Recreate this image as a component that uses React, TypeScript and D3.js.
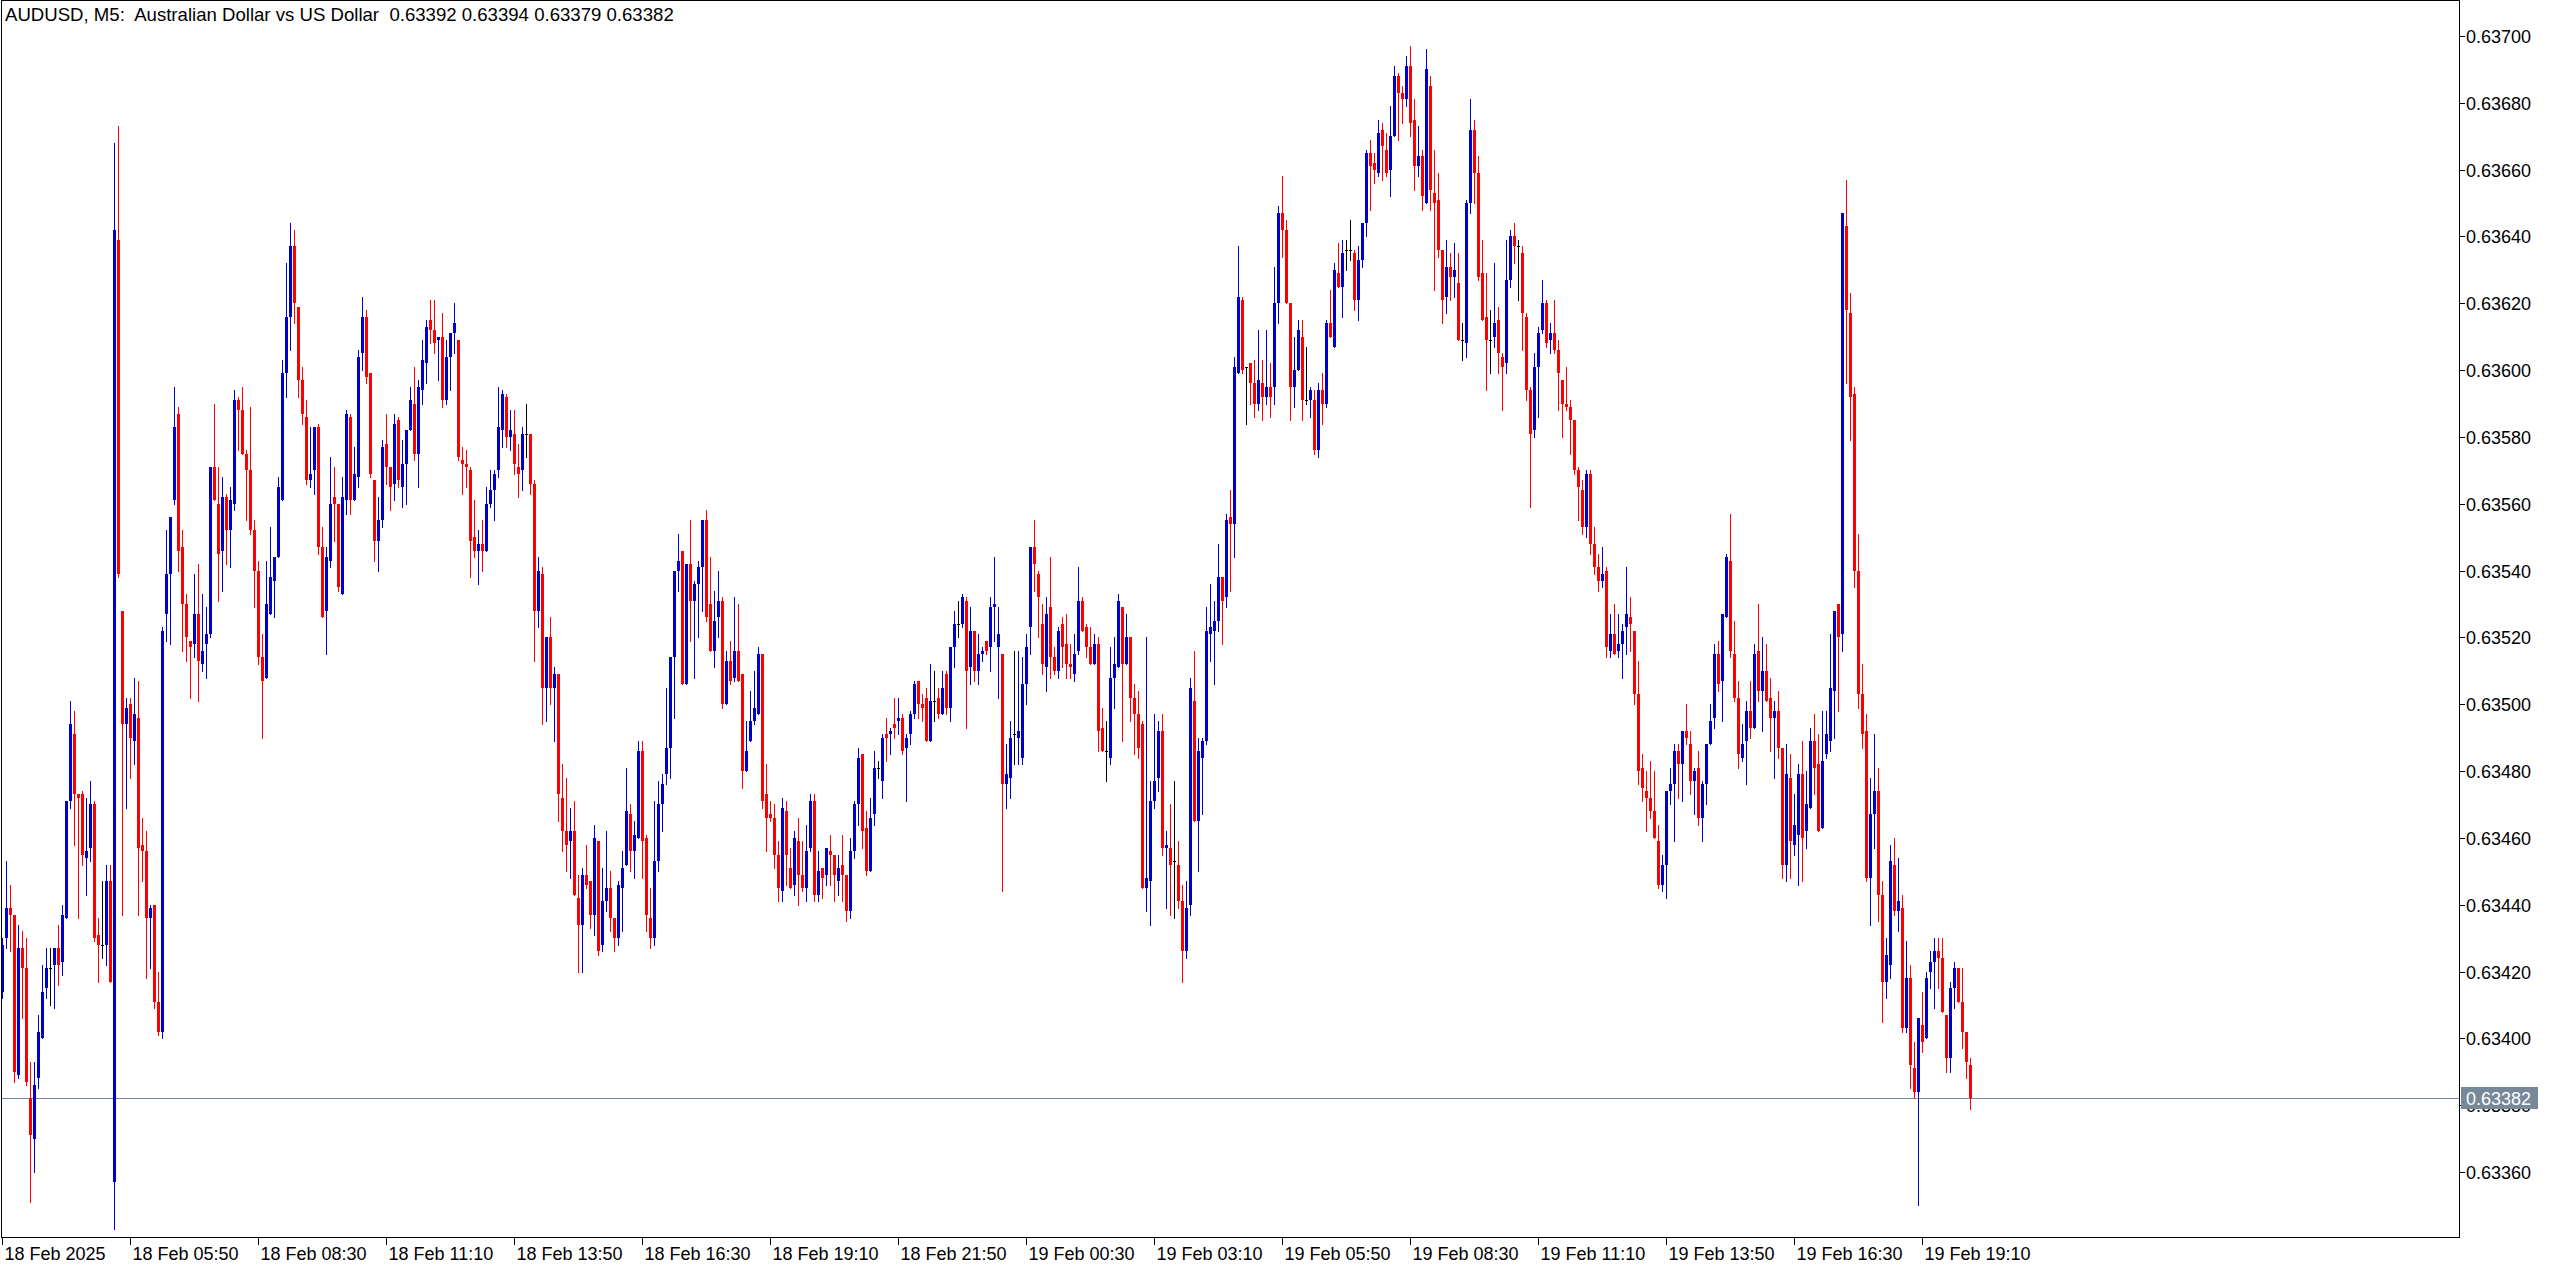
import React, { useEffect, useRef } from 'react';
import * as d3 from 'd3';

// AUDUSD M5 candles, 18 Feb 2025 03:10 .. 19 Feb 2025 20:10 (one bar every 5 minutes)
// prices are kept as points above 0.63000, e.g. 414 -> 0.63414
const opens = [
  414, 430, 439, 437, 389, 427, 421, 382, 370, 388,
  400, 415, 421, 422, 427, 423, 436, 471, 491, 473,
  473, 454, 457, 470, 431, 428, 428, 447, 357, 639,
  528, 494, 500, 489, 496, 458, 456, 436, 440, 411,
  402, 527, 539, 561, 587, 547, 530, 519, 518, 527,
  512, 518, 521, 571, 560, 546, 562, 552, 560, 591,
  588, 575, 570, 552, 540, 514, 508, 527, 537, 544,
  561, 599, 616, 637, 619, 597, 586, 567, 570, 583,
  547, 528, 543, 562, 560, 533, 561, 586, 561, 568,
  605, 616, 599, 567, 549, 555, 578, 571, 566, 585,
  565, 572, 582, 590, 575, 594, 602, 615, 612, 609,
  610, 591, 604, 611, 609, 573, 572, 570, 550, 546,
  548, 546, 560, 564, 570, 582, 592, 580, 581, 571,
  570, 581, 581, 566, 528, 539, 505, 520, 505, 509,
  472, 462, 459, 462, 442, 434, 449, 447, 437, 459,
  428, 441, 445, 436, 430, 445, 452, 467, 456, 460,
  486, 460, 436, 430, 453, 470, 479, 487, 514, 540,
  546, 506, 542, 531, 536, 541, 555, 530, 516, 526,
  531, 500, 513, 508, 516, 509, 480, 489, 495, 497,
  515, 473, 467, 466, 455, 444, 468, 451, 446, 459,
  449, 445, 457, 471, 443, 451, 449, 456, 455, 447,
  452, 449, 438, 456, 470, 485, 463, 450, 467, 481,
  477, 491, 491, 494, 495, 496, 487, 491, 497, 507,
  500, 502, 489, 501, 502, 497, 509, 499, 517, 524,
  524, 531, 511, 522, 510, 515, 519, 517, 529, 517,
  515, 476, 478, 491, 490, 484, 506, 523, 547, 539,
  524, 511, 529, 514, 510, 524, 518, 512, 509, 516,
  531, 523, 517, 512, 518, 493, 486, 484, 508, 511,
  529, 512, 520, 502, 497, 494, 445, 447, 471, 478,
  492, 457, 457, 453, 452, 441, 426, 440, 501, 465,
  484, 489, 521, 522, 525, 538, 532, 556, 554, 599,
  621, 601, 602, 596, 590, 596, 592, 595, 595, 620,
  647, 642, 620, 595, 600, 610, 591, 591, 591, 576,
  594, 590, 614, 607, 629, 625, 636, 636, 635, 621,
  633, 644, 665, 662, 659, 672, 666, 660, 670, 688,
  683, 681, 691, 675, 661, 664, 650, 685, 653, 651,
  636, 622, 631, 628, 626, 609, 608, 650, 672, 659,
  629, 616, 609, 610, 615, 604, 602, 627, 640, 637,
  635, 616, 594, 582, 601, 612, 620, 609, 611, 606,
  597, 590, 589, 585, 570, 564, 553, 569, 548, 541,
  537, 540, 516, 521, 516, 518, 523, 526, 522, 503,
  481, 474, 472, 468, 459, 446, 452, 474, 476, 486,
  482, 492, 488, 477, 481, 466, 476, 488, 496, 515,
  507, 526, 543, 515, 502, 484, 489, 498, 493, 516,
  504, 510, 502, 496, 498, 487, 452, 478, 458, 461,
  479, 462, 469, 489, 482, 463, 485, 489, 504, 530,
  521, 643, 617, 593, 540, 503, 492, 448, 467, 474,
  443, 417, 422, 452, 438, 439, 403, 418, 391, 384,
  404, 400, 420, 423, 426, 424, 407, 394, 415, 421,
  411, 402, 392,
];

const highs = [
  430, 453, 446, 437, 434, 432, 430, 393, 393, 407,
  422, 427, 427, 427, 434, 440, 471, 501, 498, 473,
  474, 472, 477, 471, 436, 447, 452, 452, 668, 673,
  528, 502, 502, 508, 507, 466, 462, 440, 440, 420,
  523, 552, 556, 595, 589, 552, 533, 519, 539, 542,
  533, 529, 571, 590, 571, 568, 563, 565, 594, 592,
  595, 576, 589, 555, 543, 521, 543, 553, 544, 568,
  603, 632, 644, 642, 619, 601, 591, 583, 583, 584,
  553, 547, 574, 571, 560, 568, 588, 587, 577, 606,
  622, 618, 599, 567, 562, 579, 587, 571, 587, 586,
  579, 582, 595, 601, 597, 609, 615, 621, 621, 610,
  617, 609, 611, 620, 609, 577, 576, 571, 561, 552,
  555, 565, 570, 570, 595, 594, 593, 588, 588, 578,
  583, 590, 581, 567, 544, 541, 520, 526, 511, 509,
  482, 478, 469, 471, 449, 451, 458, 447, 464, 459,
  451, 462, 450, 436, 447, 456, 481, 470, 465, 489,
  489, 461, 445, 471, 477, 479, 505, 514, 540, 551,
  546, 542, 555, 537, 543, 555, 558, 544, 534, 540,
  532, 516, 519, 532, 530, 509, 495, 504, 510, 517,
  515, 482, 471, 470, 459, 472, 471, 457, 462, 466,
  459, 464, 473, 473, 456, 451, 457, 461, 455, 455,
  461, 449, 460, 471, 487, 485, 468, 472, 486, 483,
  491, 496, 493, 502, 502, 497, 491, 498, 507, 507,
  503, 505, 512, 510, 505, 510, 510, 517, 528, 531,
  533, 532, 529, 522, 521, 517, 519, 532, 544, 529,
  515, 488, 495, 516, 516, 514, 521, 547, 555, 540,
  530, 532, 544, 517, 523, 526, 527, 518, 521, 541,
  532, 524, 523, 521, 520, 499, 495, 517, 520, 533,
  529, 527, 520, 506, 504, 495, 520, 477, 497, 495,
  497, 462, 470, 477, 459, 446, 447, 508, 516, 490,
  490, 529, 536, 531, 548, 538, 557, 564, 604, 637,
  622, 601, 602, 603, 612, 603, 612, 602, 631, 649,
  658, 645, 620, 610, 615, 615, 607, 595, 594, 596,
  599, 615, 624, 632, 638, 639, 639, 645, 636, 637,
  644, 666, 669, 665, 675, 674, 671, 679, 691, 689,
  685, 694, 697, 681, 673, 666, 696, 688, 666, 659,
  636, 639, 635, 638, 635, 614, 651, 681, 675, 664,
  639, 629, 618, 632, 619, 605, 639, 642, 644, 639,
  637, 617, 595, 605, 613, 627, 621, 614, 621, 609,
  597, 601, 591, 585, 571, 567, 570, 570, 553, 545,
  547, 541, 527, 530, 527, 524, 541, 532, 522, 513,
  485, 480, 483, 480, 464, 455, 474, 481, 488, 488,
  492, 500, 492, 481, 486, 477, 488, 500, 518, 519,
  527, 545, 557, 525, 507, 494, 501, 507, 518, 530,
  520, 518, 508, 501, 504, 487, 488, 485, 473, 482,
  489, 480, 493, 497, 491, 498, 498, 521, 528, 530,
  647, 657, 623, 595, 551, 512, 497, 478, 491, 481,
  447, 430, 458, 460, 454, 443, 429, 422, 399, 406,
  414, 420, 426, 430, 430, 430, 407, 417, 423, 421,
  421, 402, 394,
];

const lows = [
  412, 427, 426, 387, 388, 406, 386, 351, 360, 385,
  400, 412, 410, 409, 416, 419, 436, 469, 458, 436,
  452, 443, 453, 429, 417, 424, 422, 417, 343, 538,
  437, 469, 478, 482, 437, 447, 418, 421, 409, 401,
  400, 519, 518, 560, 540, 516, 513, 502, 514, 501,
  510, 508, 520, 561, 531, 534, 542, 541, 558, 576,
  575, 555, 551, 529, 512, 490, 508, 527, 526, 544,
  561, 592, 606, 614, 592, 584, 566, 565, 563, 545,
  526, 515, 541, 549, 534, 533, 557, 557, 561, 565,
  600, 596, 568, 543, 540, 553, 566, 558, 561, 565,
  559, 560, 582, 573, 565, 590, 596, 608, 605, 597,
  589, 590, 594, 605, 573, 563, 565, 538, 544, 536,
  540, 546, 559, 555, 568, 577, 577, 576, 569, 562,
  564, 574, 563, 513, 523, 494, 495, 500, 489, 465,
  456, 450, 448, 443, 420, 420, 445, 433, 431, 425,
  426, 438, 432, 426, 428, 432, 452, 450, 448, 460,
  448, 432, 427, 428, 450, 462, 476, 478, 496, 534,
  506, 506, 519, 508, 520, 528, 525, 516, 511, 520,
  499, 500, 506, 507, 507, 475, 480, 489, 494, 497,
  469, 456, 465, 451, 441, 441, 446, 445, 443, 440,
  444, 441, 456, 441, 441, 442, 446, 446, 441, 443,
  441, 435, 436, 454, 464, 457, 449, 450, 464, 478,
  472, 483, 485, 490, 491, 485, 471, 488, 496, 496,
  495, 489, 489, 495, 496, 497, 497, 495, 511, 520,
  523, 493, 506, 507, 506, 513, 515, 510, 519, 502,
  444, 469, 472, 482, 482, 482, 500, 515, 534, 520,
  509, 504, 508, 509, 508, 511, 508, 508, 507, 515,
  522, 514, 512, 512, 486, 486, 477, 482, 499, 511,
  489, 512, 495, 485, 484, 445, 438, 434, 469, 474,
  455, 439, 437, 436, 439, 417, 424, 437, 465, 450,
  467, 488, 513, 506, 522, 518, 529, 534, 544, 599,
  599, 584, 590, 586, 588, 585, 590, 586, 590, 614,
  634, 620, 585, 589, 600, 585, 590, 586, 575, 574,
  584, 589, 610, 607, 625, 616, 630, 633, 618, 615,
  631, 640, 648, 656, 658, 657, 658, 652, 670, 669,
  674, 679, 670, 654, 658, 648, 650, 648, 624, 634,
  614, 617, 621, 622, 609, 603, 604, 647, 650, 627,
  615, 594, 599, 607, 599, 588, 599, 625, 632, 621,
  606, 591, 559, 580, 586, 611, 607, 605, 605, 588,
  580, 588, 575, 569, 555, 551, 550, 545, 539, 534,
  535, 514, 514, 515, 514, 508, 515, 516, 500, 476,
  471, 462, 466, 460, 445, 444, 442, 470, 459, 472,
  471, 488, 473, 467, 464, 459, 470, 488, 493, 504,
  495, 526, 514, 501, 481, 483, 476, 490, 493, 501,
  492, 501, 486, 478, 484, 448, 447, 448, 455, 446,
  447, 457, 469, 473, 462, 463, 484, 486, 490, 498,
  516, 596, 579, 535, 499, 487, 447, 434, 457, 435,
  405, 412, 418, 437, 432, 402, 402, 385, 382, 350,
  396, 400, 415, 409, 415, 408, 390, 390, 409, 411,
  397, 388, 379,
];

const closes = [
  428, 439, 437, 390, 427, 421, 387, 371, 386, 402,
  414, 421, 421, 427, 422, 437, 471, 494, 473, 472,
  455, 456, 470, 430, 428, 428, 447, 417, 642, 539,
  494, 499, 490, 497, 457, 456, 436, 439, 411, 402,
  522, 539, 556, 583, 546, 530, 520, 517, 527, 513,
  516, 521, 571, 561, 545, 562, 552, 561, 591, 588,
  575, 570, 552, 540, 514, 507, 530, 538, 544, 565,
  599, 616, 637, 620, 597, 587, 567, 569, 583, 547,
  526, 544, 560, 560, 535, 562, 587, 561, 569, 604,
  616, 598, 569, 549, 555, 577, 571, 565, 584, 567,
  572, 582, 591, 575, 595, 603, 613, 612, 608, 610,
  591, 604, 611, 614, 574, 572, 571, 549, 546, 548,
  546, 560, 564, 569, 583, 593, 580, 582, 572, 569,
  581, 581, 566, 528, 540, 505, 520, 505, 509, 473,
  462, 458, 462, 443, 434, 449, 446, 437, 460, 426,
  441, 445, 436, 430, 446, 451, 468, 456, 461, 486,
  459, 437, 430, 453, 470, 476, 487, 514, 540, 543,
  506, 542, 531, 536, 541, 555, 526, 516, 525, 531,
  500, 513, 507, 516, 507, 480, 486, 495, 499, 515,
  471, 466, 466, 455, 445, 469, 455, 445, 460, 449,
  445, 456, 471, 443, 450, 448, 457, 455, 449, 451,
  449, 438, 456, 470, 484, 462, 450, 466, 481, 481,
  490, 490, 492, 493, 496, 486, 490, 497, 506, 500,
  499, 489, 501, 501, 497, 505, 499, 517, 524, 524,
  532, 510, 522, 510, 515, 516, 516, 529, 530, 521,
  476, 479, 490, 491, 492, 506, 517, 547, 542, 532,
  512, 527, 514, 510, 522, 517, 512, 511, 515, 531,
  522, 517, 512, 518, 492, 486, 486, 508, 512, 531,
  512, 520, 502, 497, 487, 445, 448, 471, 477, 492,
  457, 458, 452, 453, 441, 426, 439, 505, 465, 486,
  489, 522, 523, 525, 538, 531, 555, 554, 601, 622,
  600, 601, 596, 590, 597, 592, 595, 592, 620, 647,
  642, 620, 595, 600, 612, 591, 591, 594, 576, 594,
  590, 614, 610, 630, 625, 635, 636, 636, 621, 633,
  644, 665, 661, 660, 671, 667, 659, 670, 688, 683,
  681, 691, 674, 661, 664, 652, 690, 654, 650, 636,
  621, 631, 628, 630, 609, 609, 650, 672, 659, 628,
  615, 609, 609, 614, 605, 601, 627, 640, 637, 637,
  617, 594, 581, 601, 611, 620, 608, 611, 606, 599,
  590, 589, 585, 570, 565, 553, 569, 548, 541, 537,
  539, 517, 521, 515, 518, 522, 527, 524, 503, 480,
  475, 472, 468, 460, 446, 452, 474, 476, 486, 482,
  492, 490, 477, 480, 466, 476, 488, 495, 515, 506,
  527, 544, 516, 502, 485, 488, 498, 493, 515, 504,
  510, 501, 496, 498, 487, 452, 479, 459, 464, 479,
  460, 470, 489, 481, 462, 483, 491, 505, 528, 520,
  647, 618, 592, 540, 503, 491, 448, 467, 474, 443,
  417, 425, 453, 438, 441, 403, 418, 392, 384, 406,
  399, 418, 423, 426, 424, 408, 394, 415, 421, 411,
  402, 393, 382,
];

const timeTickLabels = [
  '18 Feb 2025', '18 Feb 05:50', '18 Feb 08:30', '18 Feb 11:10', '18 Feb 13:50',
  '18 Feb 16:30', '18 Feb 19:10', '18 Feb 21:50', '19 Feb 00:30', '19 Feb 03:10',
  '19 Feb 05:50', '19 Feb 08:30', '19 Feb 11:10', '19 Feb 13:50', '19 Feb 16:30',
  '19 Feb 19:10',
];
// bar index of each time label
const timeTickBars = [0, 32, 64, 96, 128, 160, 192, 224, 256, 288, 320, 352, 384, 416, 448, 480];

const priceTicks = [
  0.6336, 0.6338, 0.634, 0.6342, 0.6344, 0.6346, 0.6348, 0.635, 0.6352,
  0.6354, 0.6356, 0.6358, 0.636, 0.6362, 0.6364, 0.6366, 0.6368, 0.637,
];

const lastPrice = 0.63382;
const title = 'AUDUSD, M5:  Australian Dollar vs US Dollar  0.63392 0.63394 0.63379 0.63382';

const WIDTH = 2556;
const HEIGHT = 1270;
const PLOT_RIGHT = 2459.5;
const PLOT_BOTTOM = 1237.5;
const BULL = '#0000CD';
const BEAR = '#FF0000';
const DOJI = '#000000';
const PRICE_LINE = '#778899';
const FONT = '"Liberation Sans", Arial, sans-serif';

export default function App() {
  const svgRef = useRef<SVGSVGElement>(null);

  useEffect(() => {
    if (!svgRef.current) return;
    document.body.style.margin = '0';

    const svg = d3.select(svgRef.current);
    svg.selectAll('*').remove();

    const toPrice = (v: number) => 0.63 + v / 100000;
    const n = Math.min(opens.length, highs.length, lows.length, closes.length);
    const bars = d3.range(n).map(i => ({
      i,
      o: toPrice(opens[i]),
      h: toPrice(highs[i]),
      l: toPrice(lows[i]),
      c: toPrice(closes[i]),
    }));

    // one bar every 4px
    const x = d3.scaleLinear().domain([0, 492]).range([2.5, 2.5 + 4 * 492]);
    const y = d3.scaleLinear().domain([0.6336, 0.637]).range([1172, 36]);

    svg.append('rect')
      .attr('width', WIDTH)
      .attr('height', HEIGHT)
      .attr('fill', '#ffffff');

    // last price line
    const ly = Math.round(y(lastPrice)) + 0.5;
    svg.append('line')
      .attr('x1', 2)
      .attr('x2', PLOT_RIGHT)
      .attr('y1', ly)
      .attr('y2', ly)
      .attr('stroke', PRICE_LINE)
      .attr('stroke-width', 1);

    // candles
    const candles = svg.append('g').attr('shape-rendering', 'crispEdges');
    const colorOf = (d: any) => (d.c > d.o ? BULL : d.c < d.o ? BEAR : DOJI);

    const g = candles.selectAll('g.bar')
      .data(bars)
      .enter()
      .append('g')
      .attr('class', 'bar')
      .attr('fill', colorOf);

    g.append('rect')
      .attr('x', d => x(d.i) - 0.5)
      .attr('width', 1)
      .attr('y', d => Math.round(y(Math.max(d.h, d.o, d.c))))
      .attr('height', d => Math.max(1, Math.round(y(Math.min(d.l, d.o, d.c))) - Math.round(y(Math.max(d.h, d.o, d.c))) + 1));

    g.append('rect')
      .attr('x', d => x(d.i) - 1.5)
      .attr('width', 3)
      .attr('y', d => Math.round(y(Math.max(d.o, d.c))))
      .attr('height', d => Math.max(1, Math.round(y(Math.min(d.o, d.c))) - Math.round(y(Math.max(d.o, d.c)))));

    // frame
    svg.append('rect')
      .attr('x', 1.5)
      .attr('y', 0.5)
      .attr('width', PLOT_RIGHT - 1.5)
      .attr('height', PLOT_BOTTOM - 0.5)
      .attr('fill', 'none')
      .attr('stroke', '#000')
      .attr('stroke-width', 1)
      .attr('shape-rendering', 'crispEdges');

    // price axis
    const yAxis = svg.append('g').attr('font-family', FONT).attr('font-size', 18);
    priceTicks.forEach(p => {
      const ty = Math.round(y(p)) + 0.5;
      yAxis.append('line')
        .attr('x1', PLOT_RIGHT)
        .attr('x2', PLOT_RIGHT + 5)
        .attr('y1', ty)
        .attr('y2', ty)
        .attr('stroke', '#000')
        .attr('shape-rendering', 'crispEdges');
      yAxis.append('text')
        .attr('x', 2466)
        .attr('y', ty + 6.5)
        .attr('fill', '#000')
        .text(p.toFixed(5));
    });

    // time axis
    const xAxis = svg.append('g').attr('font-family', FONT).attr('font-size', 18);
    timeTickBars.forEach((b, k) => {
      const tx = Math.floor(x(b)) + 0.5;
      xAxis.append('line')
        .attr('x1', tx)
        .attr('x2', tx)
        .attr('y1', PLOT_BOTTOM)
        .attr('y2', PLOT_BOTTOM + 7)
        .attr('stroke', '#000')
        .attr('shape-rendering', 'crispEdges');
      xAxis.append('text')
        .attr('x', tx + 2)
        .attr('y', 1260)
        .attr('fill', '#000')
        .text(timeTickLabels[k]);
    });

    // last price label (drawn over the 0.63380 grid label, as in the terminal)
    svg.append('rect')
      .attr('x', 2461)
      .attr('y', ly - 11.5)
      .attr('width', 77)
      .attr('height', 22)
      .attr('fill', PRICE_LINE);
    svg.append('text')
      .attr('x', 2466)
      .attr('y', ly + 6.5)
      .attr('font-family', FONT)
      .attr('font-size', 18)
      .attr('fill', '#ffffff')
      .text(lastPrice.toFixed(5));

    // title
    svg.append('text')
      .attr('x', 5)
      .attr('y', 21)
      .attr('font-family', FONT)
      .attr('font-size', 18.6)
      .attr('fill', '#000')
      .style('white-space', 'pre')
      .text(title);
  }, []);

  return (
    <svg
      ref={svgRef}
      width={WIDTH}
      height={HEIGHT}
      style={{ position: 'absolute', left: 0, top: 0, display: 'block' }}
    />
  );
}
